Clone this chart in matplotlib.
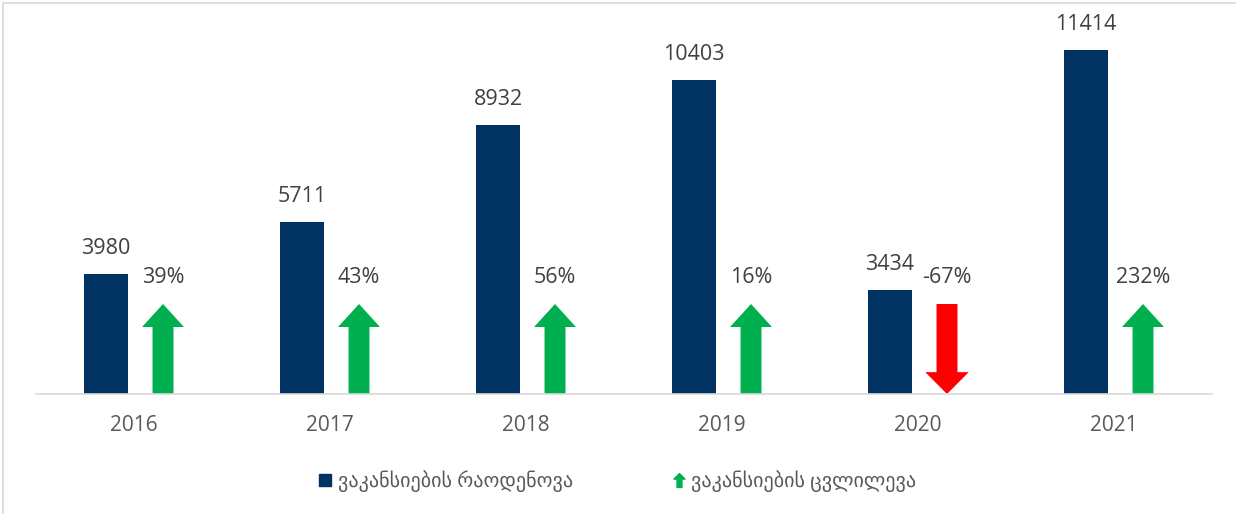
import matplotlib.pyplot as plt
import numpy as np
from matplotlib.patches import FancyArrow, Rectangle
from matplotlib.lines import Line2D
from matplotlib.path import Path

years = ['2016', '2017', '2018', '2019', '2020', '2021']
vacancies = [3980, 5711, 8932, 10403, 3434, 11414]
change = [39, 43, 56, 16, -67, 232]

navy = '#003262'
green = '#00B050'
red = '#FF0000'
grey_txt = '#595959'

plt.rcParams['font.family'] = ['Open Sans', 'DejaVu Sans']

fig = plt.figure(figsize=(12.36, 5.14), dpi=100)
ax = fig.add_axes([36 / 1236, 1 - 394 / 514, 1176 / 1236, 361.8 / 514])

x = np.arange(len(years))
bar_off = -0.143
arr_off = 0.148
ax.bar(x + bar_off, vacancies, width=0.224, color=navy, zorder=2)

for xi, v in zip(x, vacancies):
    ax.annotate(str(v), (xi + bar_off, v), xytext=(0, 18.5), textcoords='offset points',
                ha='center', va='center', fontsize=15.5, color='#404040')

arrow_len = 2985
head_len = 763
for xi, c in zip(x, change):
    if c >= 0:
        a = FancyArrow(xi + arr_off, 0, 0, arrow_len, width=0.107, head_width=0.214,
                       head_length=head_len, length_includes_head=True,
                       color=green, lw=0, zorder=2)
    else:
        a = FancyArrow(xi + arr_off, arrow_len, 0, -arrow_len, width=0.107, head_width=0.222,
                       head_length=head_len * 0.95, length_includes_head=True,
                       color=red, lw=0, zorder=2)
    ax.add_patch(a)
    ax.text(xi + arr_off, 3850, f'{c}%', ha='center', va='center', fontsize=15.5, color='#404040')

ax.set_xlim(-0.5, 5.5)
ax.set_ylim(0, 12000)
ax.set_yticks([])
ax.set_xticks(x)
ax.set_xticklabels(years, fontsize=15, color=grey_txt)
ax.tick_params(axis='x', length=0, pad=15)
for s in ['top', 'right', 'left']:
    ax.spines[s].set_visible(False)
ax.spines['bottom'].set_color('#d9d9d9')
ax.spines['bottom'].set_linewidth(1.2)

# arrow marker for legend
verts = [(-0.35, -1), (0.35, -1), (0.35, 0.2), (0.8, 0.2), (0, 1), (-0.8, 0.2), (-0.35, 0.2), (-0.35, -1)]
codes = [Path.MOVETO] + [Path.LINETO] * 6 + [Path.CLOSEPOLY]
arrow_marker = Path(verts, codes)

handles = [
    Line2D([], [], marker='s', color=navy, linestyle='None', markersize=8.5),
    Line2D([], [], marker=arrow_marker, color=green, linestyle='None', markersize=10),
]
labels = ['ვაკანსიების რაოდენოვა', 'ვაკანსიების ცვლილევა']
fig.legend(handles, labels, loc='center', bbox_to_anchor=(0.5, 1 - 481 / 514), ncol=2,
           frameon=False, fontsize=14.5, labelcolor=grey_txt, handlelength=0.6,
           handletextpad=0.3, columnspacing=5.0)

fig.patches.append(Rectangle((3 / 1236, -0.05), 1.1, 1 - 3 / 514 + 0.05, transform=fig.transFigure,
                             fill=False, edgecolor='#d9d9d9', lw=1.2))

fig.savefig('out.png', dpi=100)
